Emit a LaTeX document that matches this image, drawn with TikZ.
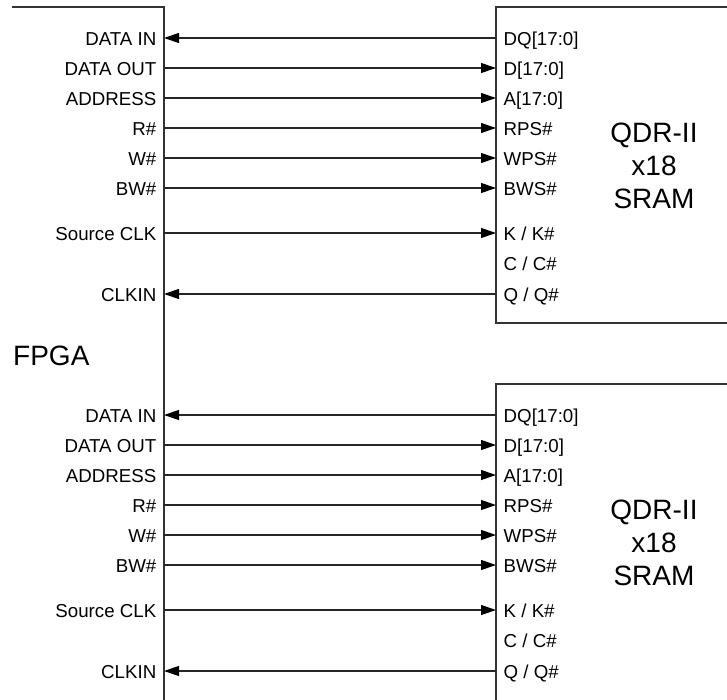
\documentclass[tikz,border=0pt]{standalone}
\usepackage{fontspec}
\setmainfont{Liberation Sans}
\usetikzlibrary{arrows.meta}
\tikzset{
  box/.style={draw=black!80, line width=1.2bp},
  tipshape/.style={},
  tin/.style={draw=black!85, line width=1.2bp, {Triangle[length=15bp,width=10bp,color=black]}-},
  tout/.style={draw=black!85, line width=1.2bp, -{Triangle[length=15bp,width=10bp,color=black]}},
  tnone/.style={draw=none},
  lbl/.style={font=\fontsize{18.7bp}{20bp}\selectfont, inner sep=0pt, text=black},
  big/.style={font=\fontsize{28bp}{33bp}\selectfont, inner sep=0pt, text=black, align=center}
}
\newcommand{\sigrow}[6]{%
  \coordinate (#1f#2) at (164,#3);
  \coordinate (#1s#2) at (496,#3);
  \node[lbl, anchor=base east] (#1L#2) at (156.5,#3+7.2) {#4};
  \node[lbl, anchor=base west] (#1R#2) at (503.5,#3+7.2) {#5};
  \path[#6] (#1f#2) -- (#1s#2);
}
\newcommand{\qdrblock}[2]{%
  \begin{scope}[yshift=-#2bp]
    \sigrow{#1}{1}{38}{DATA IN}{DQ[17:0]}{tin}
    \sigrow{#1}{2}{68}{DATA OUT}{D[17:0]}{tout}
    \sigrow{#1}{3}{98}{ADDRESS}{A[17:0]}{tout}
    \sigrow{#1}{4}{128}{R\#}{RPS\#}{tout}
    \sigrow{#1}{5}{158}{W\#}{WPS\#}{tout}
    \sigrow{#1}{6}{188}{BW\#}{BWS\#}{tout}
    \sigrow{#1}{7}{233}{Source CLK}{K / K\#}{tout}
    \node[lbl, anchor=base west] (#1R8) at (503.5,263.5+7.2) {C / C\#};
    \sigrow{#1}{9}{294}{CLKIN}{Q / Q\#}{tin}
    \node[big] (#1name) at (654,166) {QDR-II\\x18\\SRAM};
  \end{scope}
}
\begin{document}
\begin{tikzpicture}[x=1bp,y=-1bp]
\useasboundingbox (0,0) rectangle (727,700);
\fill[white] (0,0) rectangle (727,700);
% FPGA outline
\draw[box] (12,7) -- (164,7) -- (164,700);
\node[font=\fontsize{28bp}{33bp}\selectfont, inner sep=0pt, anchor=base west] (fpga) at (13,365) {FPGA};
% SRAM outlines
\draw[box] (727,7) -- (496,7) -- (496,323) -- (727,323);
\draw[box] (727,384) -- (496,384) -- (496,700);
\qdrblock{a}{0}
\qdrblock{b}{377}
\end{tikzpicture}
\end{document}
